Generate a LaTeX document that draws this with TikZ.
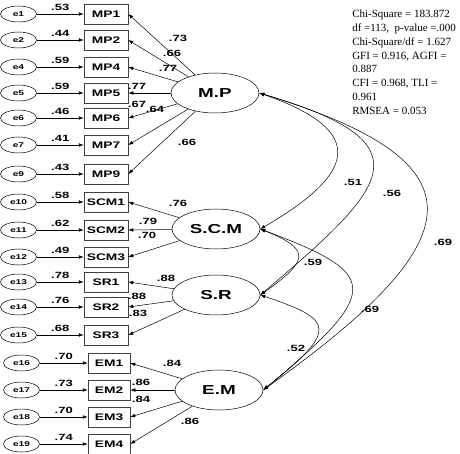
\documentclass[tikz,border=0pt]{standalone}
\usepackage{fontspec}
\setmainfont{Liberation Serif}
\newfontfamily\labelfont{Liberation Sans}[FakeStretch=1.45]
\usetikzlibrary{arrows.meta,shapes.geometric}

\begin{document}
\begin{tikzpicture}[
  x=1pt, y=-1pt,
  >={Latex[length=5pt,width=3.6pt]},
  line width=0.5pt,
  errnode/.style={draw, ellipse, minimum width=36pt, minimum height=16pt, inner sep=0pt,
    font=\labelfont\bfseries\fontsize{7}{8}\selectfont},
  obsnode/.style={draw=black!75, rectangle, minimum width=44pt, minimum height=20pt, inner sep=0pt,
    font=\labelfont\bfseries\fontsize{9.5}{11}\selectfont},
  latnode/.style={draw, ellipse, minimum width=88pt, minimum height=40pt, inner sep=0pt,
    font=\labelfont\bfseries\fontsize{13}{15}\selectfont},
  coef/.style={inner sep=1pt, font=\labelfont\bfseries\fontsize{9}{10}\selectfont}
]
  \useasboundingbox (0,0) rectangle (460,454);

  % latent factors
  \node[latnode] (MP)  at (215,93)  {M.P};
  \node[latnode] (SCM) at (216,229) {S.C.M};
  \node[latnode] (SR)  at (216,295) {S.R};
  \node[latnode] (EM)  at (219,390) {E.M};

  % indicators with their error terms
  \foreach \i/\y/\r in {1/14/.53, 2/40/.44, 4/67/.59, 5/93/.59, 6/118/.46, 7/145/.41, 9/174/.43}{
    \node[errnode] (e\i) at (18.5,\y) {e\i};
    \node[obsnode] (mp\i) at (106,\y) {MP\i};
    \draw[->] (e\i) -- node[coef, above=2pt] (r\i) {\r} (mp\i);
  }
  \foreach \i/\k/\y/\r in {10/1/202/.58, 11/2/230/.62, 12/3/257/.49}{
    \node[errnode] (e\i) at (18.5,\y) {e\i};
    \node[obsnode] (scm\k) at (106,\y) {SCM\k};
    \draw[->] (e\i) -- node[coef, above=2pt] (r\i) {\r} (scm\k);
  }
  \foreach \i/\k/\y/\r in {13/1/282/.78, 14/2/307/.76, 15/3/335/.68}{
    \node[errnode] (e\i) at (18.5,\y) {e\i};
    \node[obsnode] (sr\k) at (106,\y) {SR\k};
    \draw[->] (e\i) -- node[coef, above=2pt] (r\i) {\r} (sr\k);
  }
  \foreach \i/\k/\y/\r in {16/1/363/.70, 17/2/390/.73, 18/3/417/.70, 19/4/444/.74}{
    \node[errnode] (e\i) at (21.5,\y) {e\i};
    \node[obsnode, minimum width=42pt] (em\k) at (109,\y) {EM\k};
    \draw[->] (e\i) -- node[coef, above=2pt] (r\i) {\r} (em\k);
  }

  % factor loadings
  \foreach \f/\b/\x/\y/\v in {MP/mp1/178/38/.73, MP/mp2/172/53/.66, MP/mp4/168/68/.77,
      MP/mp5/137/86/.77, MP/mp6/137/104/.67, MP/mp7/155/109/.64, MP/mp9/187/142/.66,
      SCM/scm1/178/203/.76, SCM/scm2/148/221/.79, SCM/scm3/147/235/.70,
      SR/sr1/166/278/.88, SR/sr2/137/296/.88, SR/sr3/138/313/.83,
      EM/em1/172/363/.84, EM/em2/141/382/.86, EM/em3/141/399/.84, EM/em4/190/421/.86}{
    \draw[->] (\f) -- (\b.east);
    \node[coef] (l-\b) at (\x,\y) {\v};
  }

  % covariances between factors
  \draw[<->] (MP.east)  .. controls +(110,38) and +(95,-55)   .. (SCM.east);
  \draw[<->] (MP.east)  .. controls +(170,50) and +(130,-110) .. (SR.east);
  \draw[<->] (MP.east)  .. controls +(230,70) and +(210,-150) .. (EM.east);
  \draw[<->] (SCM.east) .. controls +(50,20)  and +(50,-35)   .. (SR.east);
  \draw[<->] (SCM.east) .. controls +(120,45) and +(120,-100) .. (EM.east);
  \draw[<->] (SR.east)  .. controls +(75,25)  and +(75,-60)   .. (EM.east);
  \node[coef] (c1) at (353,182) {.51};
  \node[coef] (c2) at (392,193) {.56};
  \node[coef] (c3) at (443,242) {.69};
  \node[coef] (c4) at (313,262) {.59};
  \node[coef] (c5) at (370,309) {.69};
  \node[coef] (c6) at (296,348) {.52};

  % fit indices
  \node[anchor=north west, inner sep=0pt, align=left, font=\fontsize{11}{13.75}\selectfont] (fit) at (352,10)
    {Chi-Square = 183.872\\ df =113,\ \ p-value =.000\\ Chi-Square/df = 1.627\\ GFI = 0.916, AGFI =\\
     0.887\\ CFI = 0.968, TLI =\\ 0.961\\ RMSEA = 0.053};
\end{tikzpicture}
\end{document}
